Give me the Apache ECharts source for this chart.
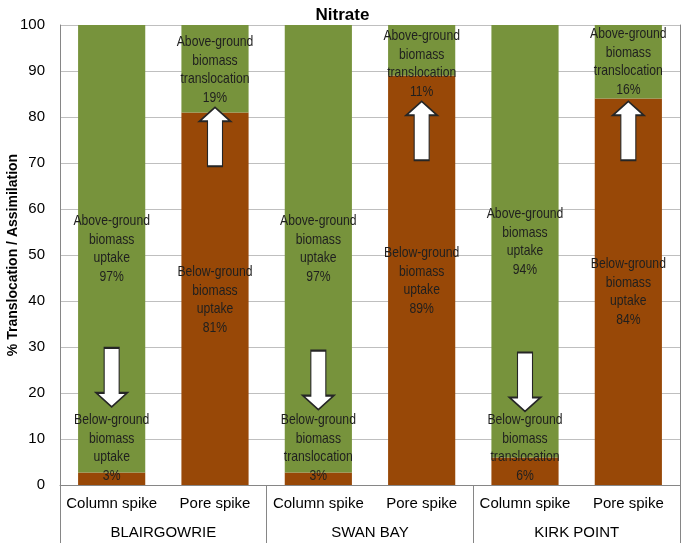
<!DOCTYPE html>
<html><head><meta charset="utf-8">
<script src="https://cdn.jsdelivr.net/npm/echarts@6/dist/echarts.min.js"></script>
<style>html,body{margin:0;padding:0;background:#fff}#c{width:685px;height:545px}</style>
</head><body><div id="c"></div>
<script>
var categories = ['Column spike','Pore spike','Column spike','Pore spike','Column spike','Pore spike'];
var sites = ['BLAIRGOWRIE','SWAN BAY','KIRK POINT'];
var belowGround = [2.7, 81, 2.7, 89, 6, 84];
var aboveGround = [97.3, 19, 97.3, 11, 94, 16];
var yTicks = {min: 0, max: 100, interval: 10};

// annotation texts with their anchor (category index, value)
var noteText = [
  'Above-ground\nbiomass\nuptake\n97%',
  'Below-ground\nbiomass\nuptake\n3%',
  'Above-ground\nbiomass\ntranslocation\n19%',
  'Below-ground\nbiomass\nuptake\n81%',
  'Above-ground\nbiomass\nuptake\n97%',
  'Below-ground\nbiomass\ntranslocation\n3%',
  'Above-ground\nbiomass\ntranslocation\n11%',
  'Below-ground\nbiomass\nuptake\n89%',
  'Above-ground\nbiomass\nuptake\n94%',
  'Below-ground\nbiomass\ntranslocation\n6%',
  'Above-ground\nbiomass\ntranslocation\n16%',
  'Below-ground\nbiomass\nuptake\n84%'
];
var noteCat = [0, 0, 1, 1, 2, 2, 3, 3, 4, 4, 5, 5];
var noteVal = [51.3, 8.0, 90.2, 40.2, 51.3, 8.0, 91.5, 44.3, 52.8, 8.0, 92.0, 42.0];

// arrows: category index, centre value, direction
var arrowCat = [0, 1, 2, 3, 4, 5];
var arrowVal = [23.4, 75.7, 22.8, 77.0, 22.4, 77.0];
var arrowDir = ['down','up','down','up','down','up'];

var downPath = 'path://M8,0 L23,0 L23,45 L31,45 L15.5,59 L0,45 L8,45 Z';
var upPath = 'path://M8,59 L23,59 L23,14 L31,14 L15.5,0 L0,14 L8,14 Z';

var chart = echarts.init(document.getElementById('c'), null, {renderer: 'canvas'});
var font = 'Liberation Sans, Arial, sans-serif';

chart.setOption({
  animation: false,
  title: {text: 'Nitrate', left: 'center', top: 2,
    textStyle: {fontFamily: font, fontSize: 17, fontWeight: 'bold', color: '#000'}},
  grid: {left: 60, right: 5, top: 25, bottom: 60, containLabel: false, outerBoundsMode: 'none'},
  xAxis: [
    {type: 'category', data: categories, position: 'bottom',
     axisLine: {lineStyle: {color: '#868686', width: 1}},
     axisTick: {show: false},
     axisLabel: {fontFamily: font, fontSize: 15, color: '#000', margin: 11, interval: 0}},
    {type: 'category', data: sites, position: 'bottom', offset: 0,
     axisLine: {show: false},
     axisTick: {show: true, inside: false, length: 58, lineStyle: {color: '#868686', width: 1}},
     axisLabel: {fontFamily: font, fontSize: 15, color: '#000', margin: 40, interval: 0}}
  ],
  yAxis: [
    {type: 'value', min: yTicks.min, max: yTicks.max, interval: yTicks.interval,
     name: '% Translocation / Assimilation', nameLocation: 'middle', nameGap: 40,
     nameMoveOverlap: false,
     nameTextStyle: {fontFamily: font, fontSize: 14, fontWeight: 'bold', color: '#000'},
     axisLine: {show: true, lineStyle: {color: '#868686'}},
     axisTick: {show: false},
     splitLine: {lineStyle: {color: '#BFBFBF', width: 1}},
     axisLabel: {fontFamily: font, fontSize: 15, color: '#000', margin: 15}},
    {type: 'value', min: yTicks.min, max: yTicks.max, interval: yTicks.interval, position: 'right',
     axisLine: {show: true, lineStyle: {color: '#868686'}},
     axisTick: {show: false}, axisLabel: {show: false}, splitLine: {show: false}}
  ],
  series: [
    {type: 'bar', stack: 'a', data: belowGround, barWidth: '65%',
     itemStyle: {color: '#984807'}},
    {type: 'bar', stack: 'a', data: aboveGround, barWidth: '65%',
     itemStyle: {color: '#77933C'}},
    {type: 'scatter', z: 5,
     data: arrowCat.map(function (c, i) {
       return {value: [c, arrowVal[i]], symbol: arrowDir[i] === 'down' ? downPath : upPath};
     }),
     symbolSize: [31, 59],
     itemStyle: {color: '#fff', borderColor: '#262626', borderWidth: 1.5, opacity: 1},
     silent: true},
    {type: 'custom', z: 6, silent: true,
     data: noteCat.map(function (c, i) { return [c, noteVal[i], i]; }),
     renderItem: function (params, api) {
       var p = api.coord([api.value(0), api.value(1)]);
       return {
         type: 'text', x: p[0], y: p[1], scaleX: 0.84, scaleY: 1,
         style: {text: noteText[api.value(2)], fontFamily: font, fontSize: 14.5,
           lineHeight: 18.5, fill: '#1f1f1f', align: 'center', verticalAlign: 'middle'}
       };
     }}
  ]
});
</script></body></html>
